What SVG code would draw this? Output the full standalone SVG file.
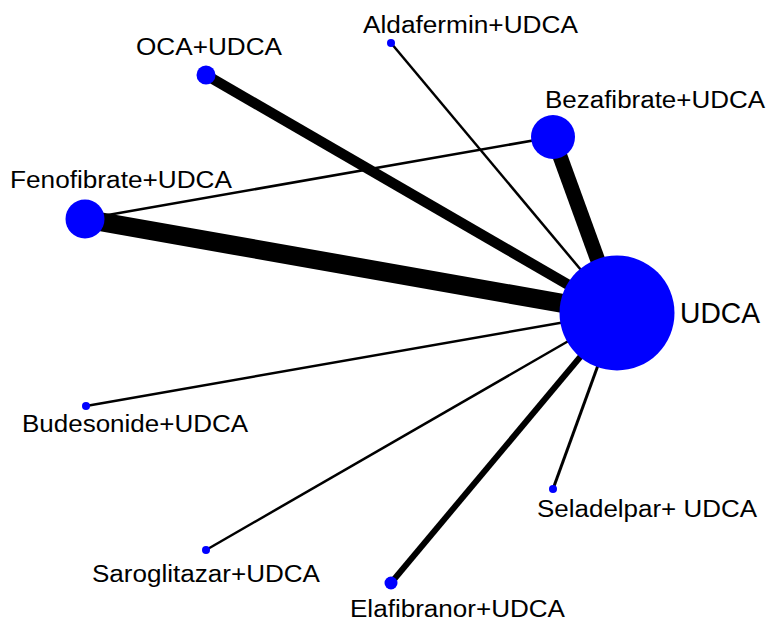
<svg xmlns="http://www.w3.org/2000/svg" width="766" height="621" viewBox="0 0 766 621">
<style>
.e{stroke:#000;stroke-linecap:butt;fill:none}
.n{fill:#0000ff}
.t{font-family:"Liberation Sans",Arial,sans-serif;font-size:23px;fill:#000}
</style>
<rect width="766" height="621" fill="#fff"/>
<g id="edges">
<line class="e" x1="85" y1="219" x2="553" y2="137" stroke-width="2.5"/>
<line class="e" x1="391" y1="43" x2="617" y2="313" stroke-width="2.5"/>
<line class="e" x1="206" y1="75" x2="617" y2="313" stroke-width="10.5"/>
<line class="e" x1="85" y1="219" x2="617" y2="313" stroke-width="19"/>
<line class="e" x1="553" y1="137" x2="617" y2="313" stroke-width="15"/>
<line class="e" x1="86" y1="406" x2="617" y2="313" stroke-width="2.5"/>
<line class="e" x1="206" y1="550" x2="617" y2="313" stroke-width="2.5"/>
<line class="e" x1="391" y1="583" x2="617" y2="313" stroke-width="6"/>
<line class="e" x1="553" y1="489" x2="617" y2="313" stroke-width="3"/>
</g>
<g id="udca"><circle class="n" cx="617" cy="313" r="57.5"/><text class="t" x="680" y="323" style="font-size:29px" textLength="80" lengthAdjust="spacingAndGlyphs">UDCA</text></g>
<g id="bezafibrate"><circle class="n" cx="553" cy="137" r="22"/><text class="t" x="545" y="108" textLength="220" lengthAdjust="spacingAndGlyphs">Bezafibrate+UDCA</text></g>
<g id="fenofibrate"><circle class="n" cx="85" cy="219" r="19.5"/><text class="t" x="10" y="188" textLength="222" lengthAdjust="spacingAndGlyphs">Fenofibrate+UDCA</text></g>
<g id="oca"><circle class="n" cx="206" cy="75" r="9.5"/><text class="t" x="136" y="55" textLength="146" lengthAdjust="spacingAndGlyphs">OCA+UDCA</text></g>
<g id="aldafermin"><circle class="n" cx="391" cy="43" r="4"/><text class="t" x="363" y="33" textLength="215" lengthAdjust="spacingAndGlyphs">Aldafermin+UDCA</text></g>
<g id="budesonide"><circle class="n" cx="86" cy="406" r="4"/><text class="t" x="22" y="432" textLength="226" lengthAdjust="spacingAndGlyphs">Budesonide+UDCA</text></g>
<g id="saroglitazar"><circle class="n" cx="206" cy="550" r="4"/><text class="t" x="92" y="582" textLength="228" lengthAdjust="spacingAndGlyphs">Saroglitazar+UDCA</text></g>
<g id="elafibranor"><circle class="n" cx="391" cy="583" r="6.5"/><text class="t" x="350" y="617" textLength="215" lengthAdjust="spacingAndGlyphs">Elafibranor+UDCA</text></g>
<g id="seladelpar"><circle class="n" cx="553" cy="489" r="4"/><text class="t" x="537" y="517" textLength="220" lengthAdjust="spacingAndGlyphs">Seladelpar+ UDCA</text></g>
</svg>
